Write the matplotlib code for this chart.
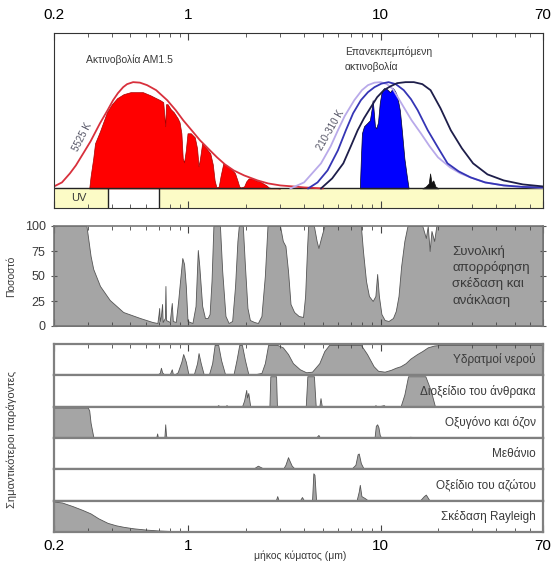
import matplotlib.pyplot as plt
from matplotlib.ticker import FixedLocator, LogLocator, NullFormatter

plt.rcParams['font.family'] = ['Liberation Sans', 'DejaVu Sans']

# --- top panel: spectra (arbitrary intensity units) ---
sun_bb_wl = [0.2, 0.22, 0.242, 0.26, 0.284, 0.31, 0.347, 0.38, 0.406, 0.43, 0.458, 0.48,
             0.516, 0.56, 0.61, 0.68, 0.776, 0.86, 0.94, 1.04, 1.15, 1.28, 1.41, 1.55,
             1.72, 1.95, 2.29, 2.6, 3.01, 3.5, 4.0, 5.0]
sun_bb_h = [2, 6, 15, 23, 35, 47, 65, 78, 88, 95, 101, 104,
            106, 105.5, 103, 98, 88, 78, 68, 58, 48, 39, 31, 24,
            18, 13, 8, 5, 3, 2, 1, 0]

am15_wl = [0.305, 0.31, 0.32, 0.327, 0.347, 0.377, 0.40, 0.426, 0.46, 0.50, 0.58, 0.633,
           0.68, 0.714, 0.74, 0.758, 0.765, 0.78, 0.81, 0.84, 0.88, 0.90, 0.92, 0.935,
           0.95, 0.97, 0.99, 1.03, 1.08, 1.11, 1.13, 1.15, 1.18, 1.24, 1.30, 1.34,
           1.37, 1.40, 1.44, 1.47, 1.52, 1.60, 1.68, 1.75, 1.80, 1.84, 1.88, 1.95,
           2.00, 2.06, 2.15, 2.25, 2.35, 2.45, 2.55, 2.62, 2.70, 2.85, 3.0]
am15_h = [0, 12, 30, 45, 57, 76, 84, 90, 94, 96, 96, 93,
          90, 88, 86, 62, 84, 84, 79, 76, 70, 66, 55, 30,
          26, 38, 55, 55, 51, 40, 22, 30, 45, 40, 35, 24,
          8, 1, 2, 12, 25, 22, 19, 15, 8, 2, 1, 2,
          7, 10, 10, 8, 7, 5, 3, 1, 0.5, 0.5, 0]

bb310_wl = [3.4, 4.0, 4.9, 5.5, 6.0, 6.5, 7.3, 8.0, 8.6, 9.3, 10.0, 10.8, 11.6, 13.2,
            14.5, 16.2, 18.0, 19.9, 23.0, 26.0, 29.4, 35.0, 43.7, 55.0, 70.0]
bb310_h = [0, 6, 25, 42, 58, 72, 88, 98, 103, 105.5, 106, 104, 99, 81,
           68, 55, 42, 31, 21, 15, 11, 6, 3, 1.5, 0.5]

bb260_wl = [4.2, 4.7, 5.3, 6.0, 6.6, 7.2, 7.9, 8.6, 9.3, 10.1, 11.0, 12.0, 13.2, 14.4,
            15.6, 17.6, 20.0, 22.3, 25.5, 29.4, 35.0, 43.7, 55.0, 70.0]
bb260_h = [0, 6, 18, 38, 58, 75, 88, 96, 101, 104.5, 106, 104, 98, 89,
           78, 58, 40, 25, 17, 11, 6, 3, 1.5, 1]

bb210_wl = [4.9, 5.6, 6.4, 7.0, 7.6, 8.2, 8.9, 9.6, 10.4, 11.3, 12.2, 13.5, 14.9, 16.5,
            18.2, 20.5, 23.2, 26.5, 30.3, 36.0, 43.7, 55.0, 70.0]
bb210_h = [0, 10, 25, 42, 58, 70, 81, 91, 98, 102, 105, 106, 106, 104,
           98, 80, 58, 40, 25, 14, 8, 4, 2]

emit_wl = [7.8, 7.9, 8.0, 8.2, 8.5, 8.8, 9.0, 9.1, 9.2, 9.35, 9.5, 9.7, 9.9, 10.1,
           10.4, 10.8, 11.2, 11.6, 11.9, 12.2, 12.6, 12.9, 13.3, 13.7, 14.0]
emit_h = [0, 30, 55, 62, 65, 68, 80, 88, 78, 62, 60, 66, 85, 95,
          100, 99, 96, 100, 97, 92, 78, 58, 30, 12, 0]

emit_dark_wl = [16.5, 17.2, 17.8, 18.1, 18.4, 18.8, 19.3, 20.0]
emit_dark_h = [0, 2, 5, 15, 6, 8, 2, 0]

# --- middle panel: total absorption (%) ---
abs_wl = [0.2, 0.295, 0.30, 0.31, 0.32, 0.347, 0.39, 0.458, 0.56, 0.65, 0.69, 0.70,
          0.705, 0.71, 0.72, 0.73, 0.735, 0.755, 0.76, 0.765, 0.80, 0.82, 0.83, 0.86,
          0.885, 0.90, 0.93, 0.95, 0.97, 0.99, 1.05, 1.09, 1.12, 1.14, 1.18, 1.22,
          1.26, 1.29, 1.32, 1.35, 1.46, 1.50, 1.56, 1.62, 1.69, 1.75, 1.80, 1.83,
          1.92, 1.97, 2.03, 2.09, 2.2, 2.3, 2.4, 2.5, 2.58, 3.0, 3.1, 3.2,
          3.3, 3.4, 3.55, 3.75, 3.95, 4.05, 4.15, 4.2, 4.5, 4.65, 4.75, 4.9,
          5.1, 7.9, 8.1, 8.4, 8.7, 9.1, 9.4, 9.6, 9.8, 10.1, 10.5, 11.0,
          11.6, 12.0, 12.4, 12.8, 13.3, 13.8, 16.5, 17.2, 17.6, 18.0, 18.4, 19.0,
          19.5, 70]
abs_pct = [100, 100, 90, 70, 57, 40, 26, 14, 8, 4, 3, 12,
           18, 5, 10, 22, 4, 8, 40, 6, 4, 23, 5, 4,
           25, 40, 68, 62, 40, 5, 3, 20, 76, 60, 20, 8,
           8, 12, 45, 100, 100, 55, 10, 3, 5, 40, 85, 100,
           100, 60, 18, 6, 4, 3, 10, 50, 100, 100, 85, 80,
           55, 22, 14, 10, 9, 30, 80, 100, 100, 85, 78, 88,
           100, 100, 75, 45, 30, 25, 30, 52, 30, 12, 6, 5,
           8, 15, 30, 60, 85, 100, 100, 88, 100, 75, 95, 85,
           100, 100]

# --- bottom panels: main absorbers (% of strip) ---
water_wl = [0.2, 0.68, 0.71, 0.72, 0.73, 0.75, 0.80, 0.82, 0.83, 0.85, 0.88, 0.92,
            0.94, 0.97, 1.0, 1.07, 1.11, 1.13, 1.16, 1.2, 1.28, 1.33, 1.37, 1.43,
            1.48, 1.55, 1.72, 1.78, 1.84, 1.90, 1.97, 2.05, 2.2, 2.4, 2.5, 2.6,
            2.9, 3.1, 3.3, 3.5, 3.8, 4.1, 4.4, 4.8, 5.1, 5.4, 7.9, 8.5,
            9.2, 9.7, 10.5, 11.3, 12.0, 12.7, 13.5, 14.3, 15.5, 16.5, 17.6, 19.0,
            20.5, 70]
water_pct = [0, 0, 8, 25, 10, 2, 3, 20, 5, 3, 10, 45,
             70, 45, 5, 5, 40, 73, 40, 5, 3, 40, 100, 100,
             50, 5, 5, 50, 100, 100, 50, 5, 3, 8, 40, 100,
             100, 92, 70, 40, 20, 10, 12, 40, 80, 100, 100, 70,
             30, 15, 12, 18, 25, 30, 40, 55, 70, 80, 92, 98,
             100, 100]

co2_wl = [0.2, 1.40, 1.43, 1.46, 1.55, 1.58, 1.61, 1.9, 1.95, 2.0, 2.02, 2.05,
          2.1, 2.64, 2.67, 2.86, 2.89, 4.08, 4.16, 4.5, 4.6, 4.8, 4.87, 4.95,
          9.3, 9.4, 9.6, 10.4, 10.6, 12.7, 13.3, 13.9, 17.1, 18.2, 19.2, 70]
co2_pct = [0, 0, 5, 0, 0, 5, 0, 0, 20, 55, 30, 45,
           0, 0, 100, 100, 0, 0, 100, 100, 0, 0, 28, 0,
           0, 5, 0, 5, 0, 0, 40, 100, 100, 55, 0, 0]

o2o3_wl = [0.2, 0.30, 0.305, 0.31, 0.32, 0.325, 0.68, 0.688, 0.695, 0.75, 0.758, 0.765,
           0.772, 4.6, 4.75, 4.85, 9.3, 9.45, 9.6, 9.75, 9.9, 10.1, 13.5, 14.2,
           15.0, 16.0, 70]
o2o3_pct = [100, 100, 90, 50, 5, 0, 0, 15, 0, 0, 45, 10,
            0, 0, 10, 0, 0, 40, 45, 35, 10, 0, 0, 4,
            3, 0, 0]

ch4_wl = [0.2, 2.15, 2.25, 2.3, 2.4, 2.5, 3.1, 3.2, 3.3, 3.35, 3.45, 3.6,
          7.0, 7.4, 7.6, 7.7, 7.9, 8.2, 70]
ch4_pct = [0, 0, 8, 12, 6, 0, 0, 15, 40, 30, 12, 0,
           0, 15, 50, 52, 20, 0, 0]

n2o_wl = [0.2, 2.85, 2.9, 2.95, 3.8, 3.9, 4.0, 4.4, 4.47, 4.53, 4.62, 7.5,
          7.7, 7.8, 7.95, 8.3, 8.5, 8.7, 16.0, 16.8, 17.2, 18.0, 70]
n2o_pct = [0, 0, 15, 0, 0, 12, 0, 0, 90, 85, 0, 0,
           30, 52, 15, 8, 3, 0, 0, 15, 20, 0, 0]

rayleigh_wl = [0.2, 0.22, 0.25, 0.28, 0.31, 0.34, 0.38, 0.42, 0.46, 0.52, 0.6, 0.7,
               0.83, 1.0, 1.3, 1.6, 70]
rayleigh_pct = [100, 97, 85, 73, 61, 45, 30, 22, 17, 12, 8, 5,
                3, 1.5, 0.5, 0, 0]

strip_names = ['Υδρατμοί νερού', 'Διοξείδιο του άνθρακα', 'Οξυγόνο και όζον',
               'Μεθάνιο', 'Οξείδιο του αζώτου', 'Σκέδαση Rayleigh']
strip_data = [(water_wl, water_pct), (co2_wl, co2_pct), (o2o3_wl, o2o3_pct),
              (ch4_wl, ch4_pct), (n2o_wl, n2o_pct), (rayleigh_wl, rayleigh_pct)]

tick_vals = [0.2, 1, 10, 70]
tick_labels = ['0.2', '1', '10', '70']
grey_fill = '#a5a5a5'
grey_edge = '#555555'
txt = '#3a3a3a'

W, H = 553, 567
fig = plt.figure(figsize=(W / 100, H / 100), dpi=100)


def box(top, bottom, left=54, right=543):
    return [left / W, 1 - bottom / H, (right - left) / W, (bottom - top) / H]


def log_x(ax):
    ax.set_xscale('log')
    ax.set_xlim(0.2, 70)
    ax.xaxis.set_major_locator(FixedLocator(tick_vals))
    ax.xaxis.set_minor_locator(LogLocator(subs=range(2, 10)))
    ax.xaxis.set_minor_formatter(NullFormatter())
    ax.tick_params(axis='x', which='major', length=5, width=0.8, color='#444444')
    ax.tick_params(axis='x', which='minor', length=3, width=0.6, color='#444444')


# top panel
ax1 = fig.add_axes(box(33, 208))
log_x(ax1)
ax1.set_ylim(-19.5, 155)
ax1.set_yticks([])
ax1.fill_between([0.2, 0.38], -19.5, 0, color='#fcfbc6', lw=0)
ax1.fill_between([0.70, 70], -19.5, 0, color='#fcfbc6', lw=0)
ax1.axhline(0, color='#222222', lw=1)
ax1.vlines([0.38, 0.70], -19.5, 0, color='#222222', lw=1)
ax1.text(0.27, -9.5, 'UV', ha='center', va='center', fontsize=8, color=txt)

ax1.fill_between(am15_wl, am15_h, color='#ff0000', edgecolor='#a80000', lw=0.5)
ax1.plot(sun_bb_wl, sun_bb_h, color='#d8303c', lw=1.3)
ax1.plot(bb310_wl, bb310_h, color='#b9aaea', lw=1.3)
ax1.plot(bb260_wl, bb260_h, color='#3535b5', lw=1.3)
ax1.plot(bb210_wl, bb210_h, color='#1e1e4a', lw=1.3)
ax1.fill_between(emit_wl, emit_h, color='#0000ff', edgecolor='#000030', lw=0.5)
ax1.fill_between(emit_dark_wl, emit_dark_h, color='#111111', lw=0.5)

ax1.text(0.065, 0.846, 'Ακτινοβολία AM1.5', transform=ax1.transAxes,
         fontsize=7.5, color=txt, va='center')
ax1.text(0.595, 0.85, 'Επανεκπεμπόμενη\nακτινοβολία', transform=ax1.transAxes,
         fontsize=7.5, color=txt, va='center', linespacing=1.5)
ax1.text(0.28, 51, '5525 K', rotation=63, fontsize=7, color='#555566',
         ha='center', va='center')
ax1.text(5.5, 58, '210-310 K', rotation=60, fontsize=7, color='#555566',
         ha='center', va='center')
ax1.tick_params(axis='x', which='both', direction='in', top=True, bottom=True,
                labeltop=True, labelbottom=False, labelsize=11, pad=8)
ax1.set_xticklabels(tick_labels)
for s in ax1.spines.values():
    s.set_color('#333333')

# middle panel
ax2 = fig.add_axes(box(226, 326))
log_x(ax2)
ax2.set_ylim(0, 100)
ax2.fill_between(abs_wl, abs_pct, color=grey_fill, edgecolor=grey_edge, lw=0.6)
ax2.set_yticks([0, 25, 50, 75, 100])
ax2.tick_params(axis='y', direction='inout', length=5, right=True, labelsize=9,
                labelcolor=txt, color='#555555')
ax2.tick_params(axis='x', which='both', direction='in', top=True, bottom=True,
                labelbottom=False)
ax2.set_ylabel('Ποσοστό', fontsize=7.5, color=txt, labelpad=6)
ax2.text(0.814, 0.5, 'Συνολική\nαπορρόφηση\nσκέδαση και\nανάκλαση',
         transform=ax2.transAxes, fontsize=9.5, color=txt, va='center',
         linespacing=1.35)
for s in ax2.spines.values():
    s.set_color('#777777')
    s.set_linewidth(1.2)

# bottom strips
n = len(strip_names)
top, bottom = 344, 532
step = (bottom - top) / n
for i, (name, (wl, pct)) in enumerate(zip(strip_names, strip_data)):
    ax = fig.add_axes(box(top + i * step, top + (i + 1) * step))
    log_x(ax)
    ax.set_ylim(0, 103)
    ax.set_yticks([])
    ax.fill_between(wl, pct, color=grey_fill, edgecolor=grey_edge, lw=0.6)
    ax.text(0.985, 0.5, name, transform=ax.transAxes, ha='right', va='center',
            fontsize=8.5, color=txt)
    for s in ax.spines.values():
        s.set_color('#808080')
        s.set_linewidth(1.6)
    ax.tick_params(axis='x', which='both', direction='in',
                   top=(i == 0), bottom=(i == n - 1),
                   labelbottom=(i == n - 1), labelsize=11, pad=5)
    if i == n - 1:
        ax.set_xticklabels(tick_labels)

fig.text(0.022, 1 - 440 / H, 'Σημαντικότεροι παράγοντες', rotation=90,
         ha='center', va='center', fontsize=8, color=txt)
fig.text(300 / W, 1 - 556 / H, 'μήκος κύματος (μm)', ha='center', va='center',
         fontsize=7.5, color=txt)

fig.savefig('out.png', dpi=100)
